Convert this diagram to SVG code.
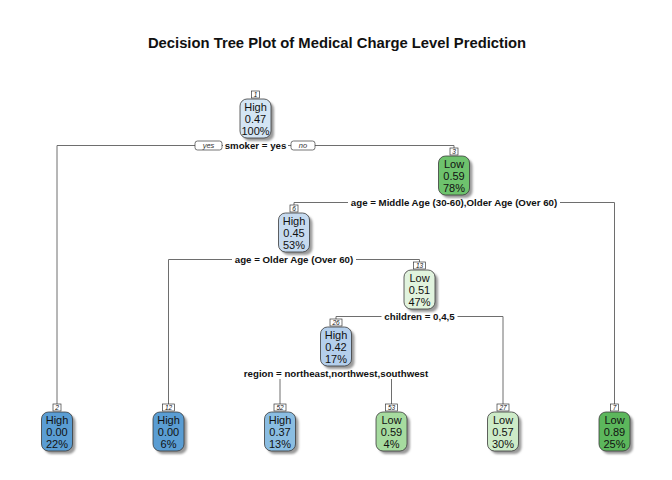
<svg xmlns="http://www.w3.org/2000/svg" width="672" height="480" viewBox="0 0 672 480">
<defs>
<filter id="blur" x="-20%" y="-20%" width="140%" height="140%"><feGaussianBlur stdDeviation="0.9"/></filter>
</defs>
<style>
text{font-family:"Liberation Sans",Arial,sans-serif;fill:#111}
.title{font-size:14.8px;font-weight:bold}
.split{font-size:9.7px;font-weight:bold}
.nt{font-size:11px}
.num{font-size:6.5px;font-style:italic}
.yn{font-size:7.5px;font-style:italic;fill:#333}
.conn{fill:none;stroke:#6e6e6e;stroke-width:1}
.sh{fill:#9a9a9a;filter:url(#blur)}
.box{stroke:#3a3a3a;stroke-width:0.8}
.lbl{fill:#fff;stroke:#3a3a3a;stroke-width:0.7}
.bg{fill:#fff}
</style>
<rect width="672" height="480" fill="#fff"/>
<text class="title" x="337" y="48" text-anchor="middle">Decision Tree Plot of Medical Charge Level Prediction</text>

<g id="connectors">
<path class="conn" d="M57,404 V145.5 H454 V148"/>
<path class="conn" d="M294,205 V202.5 H614.5 V404"/>
<path class="conn" d="M168.5,404 V259.5 H419.5 V262"/>
<path class="conn" d="M336,319 V316.5 H503 V404"/>
<path class="conn" d="M280,404 V373.5 H391.5 V404"/>
<rect x="195" y="141" width="27" height="9" rx="2.5" class="lbl"/>
<text class="yn" x="208.5" y="148" text-anchor="middle">yes</text>
<rect x="291" y="141" width="24" height="9" rx="2.5" class="lbl"/>
<text class="yn" x="303" y="148" text-anchor="middle">no</text>
</g>

<g id="split-labels">
<rect class="bg" x="223" y="140" width="65" height="11"/>
<text class="split" x="255.5" y="149" text-anchor="middle">smoker = yes</text>
<rect class="bg" x="348" y="197" width="212" height="11"/>
<text class="split" x="454" y="206" text-anchor="middle">age = Middle Age (30-60),Older Age (Over 60)</text>
<rect class="bg" x="232" y="254" width="124" height="11"/>
<text class="split" x="294" y="263" text-anchor="middle">age = Older Age (Over 60)</text>
<rect class="bg" x="381.5" y="311" width="76" height="11"/>
<text class="split" x="419.5" y="320" text-anchor="middle">children = 0,4,5</text>
<rect class="bg" x="241" y="368" width="190" height="11"/>
<text class="split" x="336" y="377" text-anchor="middle">region = northeast,northwest,southwest</text>
</g>

<g id="node1">
<rect class="sh" x="243" y="102" width="31" height="39" rx="7"/>
<rect class="box" x="240" y="99" width="31" height="39" rx="7" fill="#d4e5f4"/>
<rect class="lbl" x="251.5" y="91" width="8" height="7"/>
<text class="num" x="255.5" y="97" text-anchor="middle">1</text>
<text class="nt" x="255.5" y="111" text-anchor="middle">High</text>
<text class="nt" x="255.5" y="122.5" text-anchor="middle">0.47</text>
<text class="nt" x="255.5" y="134.5" text-anchor="middle">100%</text>
</g>

<g id="node3">
<rect class="sh" x="441.5" y="159" width="31" height="39" rx="7"/>
<rect class="box" x="438.5" y="156" width="31" height="39" rx="7" fill="#6ec26d"/>
<rect class="lbl" x="450" y="148" width="8" height="7"/>
<text class="num" x="454" y="154" text-anchor="middle">3</text>
<text class="nt" x="454" y="168" text-anchor="middle">Low</text>
<text class="nt" x="454" y="179.5" text-anchor="middle">0.59</text>
<text class="nt" x="454" y="191.5" text-anchor="middle">78%</text>
</g>

<g id="node6">
<rect class="sh" x="281.5" y="216" width="31" height="39" rx="7"/>
<rect class="box" x="278.5" y="213" width="31" height="39" rx="7" fill="#c6daef"/>
<rect class="lbl" x="290" y="205" width="8" height="7"/>
<text class="num" x="294" y="211" text-anchor="middle">6</text>
<text class="nt" x="294" y="225" text-anchor="middle">High</text>
<text class="nt" x="294" y="236.5" text-anchor="middle">0.45</text>
<text class="nt" x="294" y="248.5" text-anchor="middle">53%</text>
</g>

<g id="node13">
<rect class="sh" x="407" y="273" width="31" height="39" rx="7"/>
<rect class="box" x="404" y="270" width="31" height="39" rx="7" fill="#e1f3de"/>
<rect class="lbl" x="413.5" y="262" width="12" height="7"/>
<text class="num" x="419.5" y="268" text-anchor="middle">13</text>
<text class="nt" x="419.5" y="282" text-anchor="middle">Low</text>
<text class="nt" x="419.5" y="293.5" text-anchor="middle">0.51</text>
<text class="nt" x="419.5" y="305.5" text-anchor="middle">47%</text>
</g>

<g id="node26">
<rect class="sh" x="323.5" y="330" width="31" height="39" rx="7"/>
<rect class="box" x="320.5" y="327" width="31" height="39" rx="7" fill="#b4cfec"/>
<rect class="lbl" x="330" y="319" width="12" height="7"/>
<text class="num" x="336" y="325" text-anchor="middle">26</text>
<text class="nt" x="336" y="339" text-anchor="middle">High</text>
<text class="nt" x="336" y="350.5" text-anchor="middle">0.42</text>
<text class="nt" x="336" y="362.5" text-anchor="middle">17%</text>
</g>

<g id="node2">
<rect class="sh" x="44.5" y="415" width="31" height="39" rx="7"/>
<rect class="box" x="41.5" y="412" width="31" height="39" rx="7" fill="#5a9dd3"/>
<rect class="lbl" x="53" y="404" width="8" height="7"/>
<text class="num" x="57" y="410" text-anchor="middle">2</text>
<text class="nt" x="57" y="424" text-anchor="middle">High</text>
<text class="nt" x="57" y="435.5" text-anchor="middle">0.00</text>
<text class="nt" x="57" y="447.5" text-anchor="middle">22%</text>
</g>

<g id="node12">
<rect class="sh" x="156" y="415" width="31" height="39" rx="7"/>
<rect class="box" x="153" y="412" width="31" height="39" rx="7" fill="#5a9dd3"/>
<rect class="lbl" x="162.5" y="404" width="12" height="7"/>
<text class="num" x="168.5" y="410" text-anchor="middle">12</text>
<text class="nt" x="168.5" y="424" text-anchor="middle">High</text>
<text class="nt" x="168.5" y="435.5" text-anchor="middle">0.00</text>
<text class="nt" x="168.5" y="447.5" text-anchor="middle">6%</text>
</g>

<g id="node52">
<rect class="sh" x="267.5" y="415" width="31" height="39" rx="7"/>
<rect class="box" x="264.5" y="412" width="31" height="39" rx="7" fill="#8abde2"/>
<rect class="lbl" x="274" y="404" width="12" height="7"/>
<text class="num" x="280" y="410" text-anchor="middle">52</text>
<text class="nt" x="280" y="424" text-anchor="middle">High</text>
<text class="nt" x="280" y="435.5" text-anchor="middle">0.37</text>
<text class="nt" x="280" y="447.5" text-anchor="middle">13%</text>
</g>

<g id="node53">
<rect class="sh" x="379" y="415" width="31" height="39" rx="7"/>
<rect class="box" x="376" y="412" width="31" height="39" rx="7" fill="#a6db9f"/>
<rect class="lbl" x="385.5" y="404" width="12" height="7"/>
<text class="num" x="391.5" y="410" text-anchor="middle">53</text>
<text class="nt" x="391.5" y="424" text-anchor="middle">Low</text>
<text class="nt" x="391.5" y="435.5" text-anchor="middle">0.59</text>
<text class="nt" x="391.5" y="447.5" text-anchor="middle">4%</text>
</g>

<g id="node27">
<rect class="sh" x="490.5" y="415" width="31" height="39" rx="7"/>
<rect class="box" x="487.5" y="412" width="31" height="39" rx="7" fill="#cdebc8"/>
<rect class="lbl" x="497" y="404" width="12" height="7"/>
<text class="num" x="503" y="410" text-anchor="middle">27</text>
<text class="nt" x="503" y="424" text-anchor="middle">Low</text>
<text class="nt" x="503" y="435.5" text-anchor="middle">0.57</text>
<text class="nt" x="503" y="447.5" text-anchor="middle">30%</text>
</g>

<g id="node7">
<rect class="sh" x="602" y="415" width="31" height="39" rx="7"/>
<rect class="box" x="599" y="412" width="31" height="39" rx="7" fill="#5cb75c"/>
<rect class="lbl" x="610.5" y="404" width="8" height="7"/>
<text class="num" x="614.5" y="410" text-anchor="middle">7</text>
<text class="nt" x="614.5" y="424" text-anchor="middle">Low</text>
<text class="nt" x="614.5" y="435.5" text-anchor="middle">0.89</text>
<text class="nt" x="614.5" y="447.5" text-anchor="middle">25%</text>
</g>
</svg>
